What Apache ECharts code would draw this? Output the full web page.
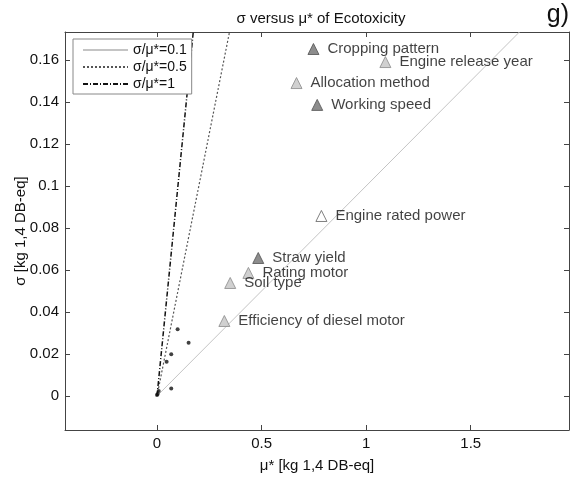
<!DOCTYPE html>
<html>
<head>
<meta charset="utf-8">
<script src="https://cdn.jsdelivr.net/npm/echarts@6/dist/echarts.min.js"></script>
<style>
  html, body { margin: 0; padding: 0; background: #fff; }
  #chart { width: 572px; height: 479px; }
</style>
</head>
<body>
<div id="chart"></div>
<script>
// Parameters: mean of absolute elementary effects (mu*) and standard deviation (sigma)
const paramNames = ['Cropping pattern', 'Engine release year', 'Allocation method', 'Working speed',
  'Engine rated power', 'Straw yield', 'Rating motor', 'Soil type', 'Efficiency of diesel motor'];
const paramMu    = [0.748, 1.092, 0.667, 0.766, 0.786, 0.484, 0.437, 0.350, 0.322];
const paramSigma = [0.1652, 0.159, 0.149, 0.1386, 0.0857, 0.0657, 0.0586, 0.0538, 0.0357];
const paramShade = ['dark', 'light', 'light', 'dark', 'white', 'dark', 'light', 'light', 'light'];

// Remaining minor parameters (small dots near the origin)
const minorMu    = [0.0986, 0.151, 0.068, 0.046, 0.068, 0.008, 0.000, 0.003];
const minorSigma = [0.0318, 0.0254, 0.0199, 0.0163, 0.0035, 0.0024, 0.0005, 0.0010];

// Reference ratios sigma/mu*
const ratios = [0.1, 0.5, 1];
const ratioNames = ['σ/μ*=0.1', 'σ/μ*=0.5', 'σ/μ*=1'];

// Axis ranges and tick labels
const xRange = [-0.44, 1.97];
const yRange = [-0.0162, 0.1733];
const xTicks = [0, 0.5, 1, 1.5];
const yTicks = [0, 0.02, 0.04, 0.06, 0.08, 0.1, 0.12, 0.14, 0.16];

const FONT = 'Liberation Sans, Arial, sans-serif';

const shadeStyle = {
  dark:  { color: '#707070', borderColor: '#505050', borderWidth: 1 },
  light: { color: '#c4c4c4', borderColor: '#8a8a8a', borderWidth: 1 },
  white: { color: '#ffffff', borderColor: '#606060', borderWidth: 1 }
};

const lineStyles = [
  { color: '#c4c4c4', width: 1, type: 'solid' },
  { color: '#555555', width: 1.2, type: [2, 2] },
  { color: '#111111', width: 1.5, type: [5, 2, 1, 2] }
];

const ratioSeries = ratios.map((r, i) => ({
  name: ratioNames[i],
  type: 'line',
  xAxisIndex: 0, yAxisIndex: 0,
  symbol: 'none',
  showSymbol: false,
  clip: true,
  silent: true,
  lineStyle: lineStyles[i],
  itemStyle: { color: lineStyles[i].color },
  data: [[0, 0], [yRange[1] / r, yRange[1]]],
  z: 2
}));

const paramData = paramNames.map((n, i) => ({
  name: n,
  value: [paramMu[i], paramSigma[i]],
  itemStyle: shadeStyle[paramShade[i]]
}));

const minorData = minorMu.map((m, i) => [m, minorSigma[i]]);

const baseAxis = {
  type: 'value',
  axisLine: { show: true, onZero: false, lineStyle: { color: '#444', width: 1 } },
  axisTick: { show: true, inside: true, length: 5, lineStyle: { color: '#444' } },
  splitLine: { show: false }
};

const chart = echarts.init(document.getElementById('chart'));
chart.setOption({
  backgroundColor: '#ffffff',
  animation: false,
  title: {
    text: 'σ versus μ* of Ecotoxicity',
    left: 316, top: 6, textAlign: 'center',
    textStyle: { fontFamily: FONT, fontSize: 15, fontWeight: 'normal', color: '#111' }
  },
  graphic: [{
    type: 'text', right: 3, top: 3,
    style: { text: 'g)', fontFamily: FONT, fontSize: 25, fill: '#111' }
  }],
  legend: {
    data: ratioNames,
    orient: 'vertical',
    left: 73, top: 39,
    itemWidth: 45, itemHeight: 14, itemGap: 3,
    padding: [4, 5, 3, 9],
    borderColor: '#888', borderWidth: 1,
    backgroundColor: '#fff',
    itemStyle: { opacity: 0 },
    textStyle: { fontFamily: FONT, fontSize: 14, color: '#111' }
  },
  grid: { left: 65, right: 3, top: 32, bottom: 49, containLabel: false, outerBoundsMode: 'none' },
  xAxis: [
    Object.assign({}, baseAxis, {
      position: 'bottom', min: xRange[0], max: xRange[1],
      name: 'μ* [kg 1,4 DB-eq]', nameLocation: 'middle', nameGap: 28,
      nameMoveOverlap: false,
      nameTextStyle: { fontFamily: FONT, fontSize: 15, color: '#111' },
      axisTick: Object.assign({}, baseAxis.axisTick, { customValues: xTicks }),
      axisLabel: { customValues: xTicks, fontFamily: FONT, fontSize: 15, color: '#111', margin: 6,
        formatter: v => String(v) }
    }),
    Object.assign({}, baseAxis, {
      position: 'top', min: xRange[0], max: xRange[1],
      axisTick: Object.assign({}, baseAxis.axisTick, { customValues: xTicks }),
      axisLabel: { show: false }
    })
  ],
  yAxis: [
    Object.assign({}, baseAxis, {
      position: 'left', min: yRange[0], max: yRange[1],
      name: 'σ [kg 1,4 DB-eq]', nameLocation: 'middle', nameGap: 37,
      nameMoveOverlap: false,
      nameTextStyle: { fontFamily: FONT, fontSize: 15, color: '#111' },
      axisTick: Object.assign({}, baseAxis.axisTick, { customValues: yTicks }),
      axisLabel: { customValues: yTicks, fontFamily: FONT, fontSize: 15, color: '#111', margin: 6,
        formatter: v => String(v) }
    }),
    Object.assign({}, baseAxis, {
      position: 'right', min: yRange[0], max: yRange[1],
      axisTick: Object.assign({}, baseAxis.axisTick, { customValues: yTicks }),
      axisLabel: { show: false }
    })
  ],
  series: ratioSeries.concat([
    {
      name: 'minor',
      type: 'scatter',
      xAxisIndex: 0, yAxisIndex: 0,
      symbol: 'circle', symbolSize: 4,
      itemStyle: { color: '#111' },
      data: minorData,
      z: 4
    },
    {
      name: 'parameters',
      type: 'scatter',
      xAxisIndex: 0, yAxisIndex: 0,
      symbol: 'triangle', symbolSize: 11,
      data: paramData,
      label: {
        show: true, position: 'right', distance: 8,
        formatter: p => p.name,
        fontFamily: FONT, fontSize: 15, color: '#111'
      },
      z: 5
    }
  ])
});
</script>
</body>
</html>
